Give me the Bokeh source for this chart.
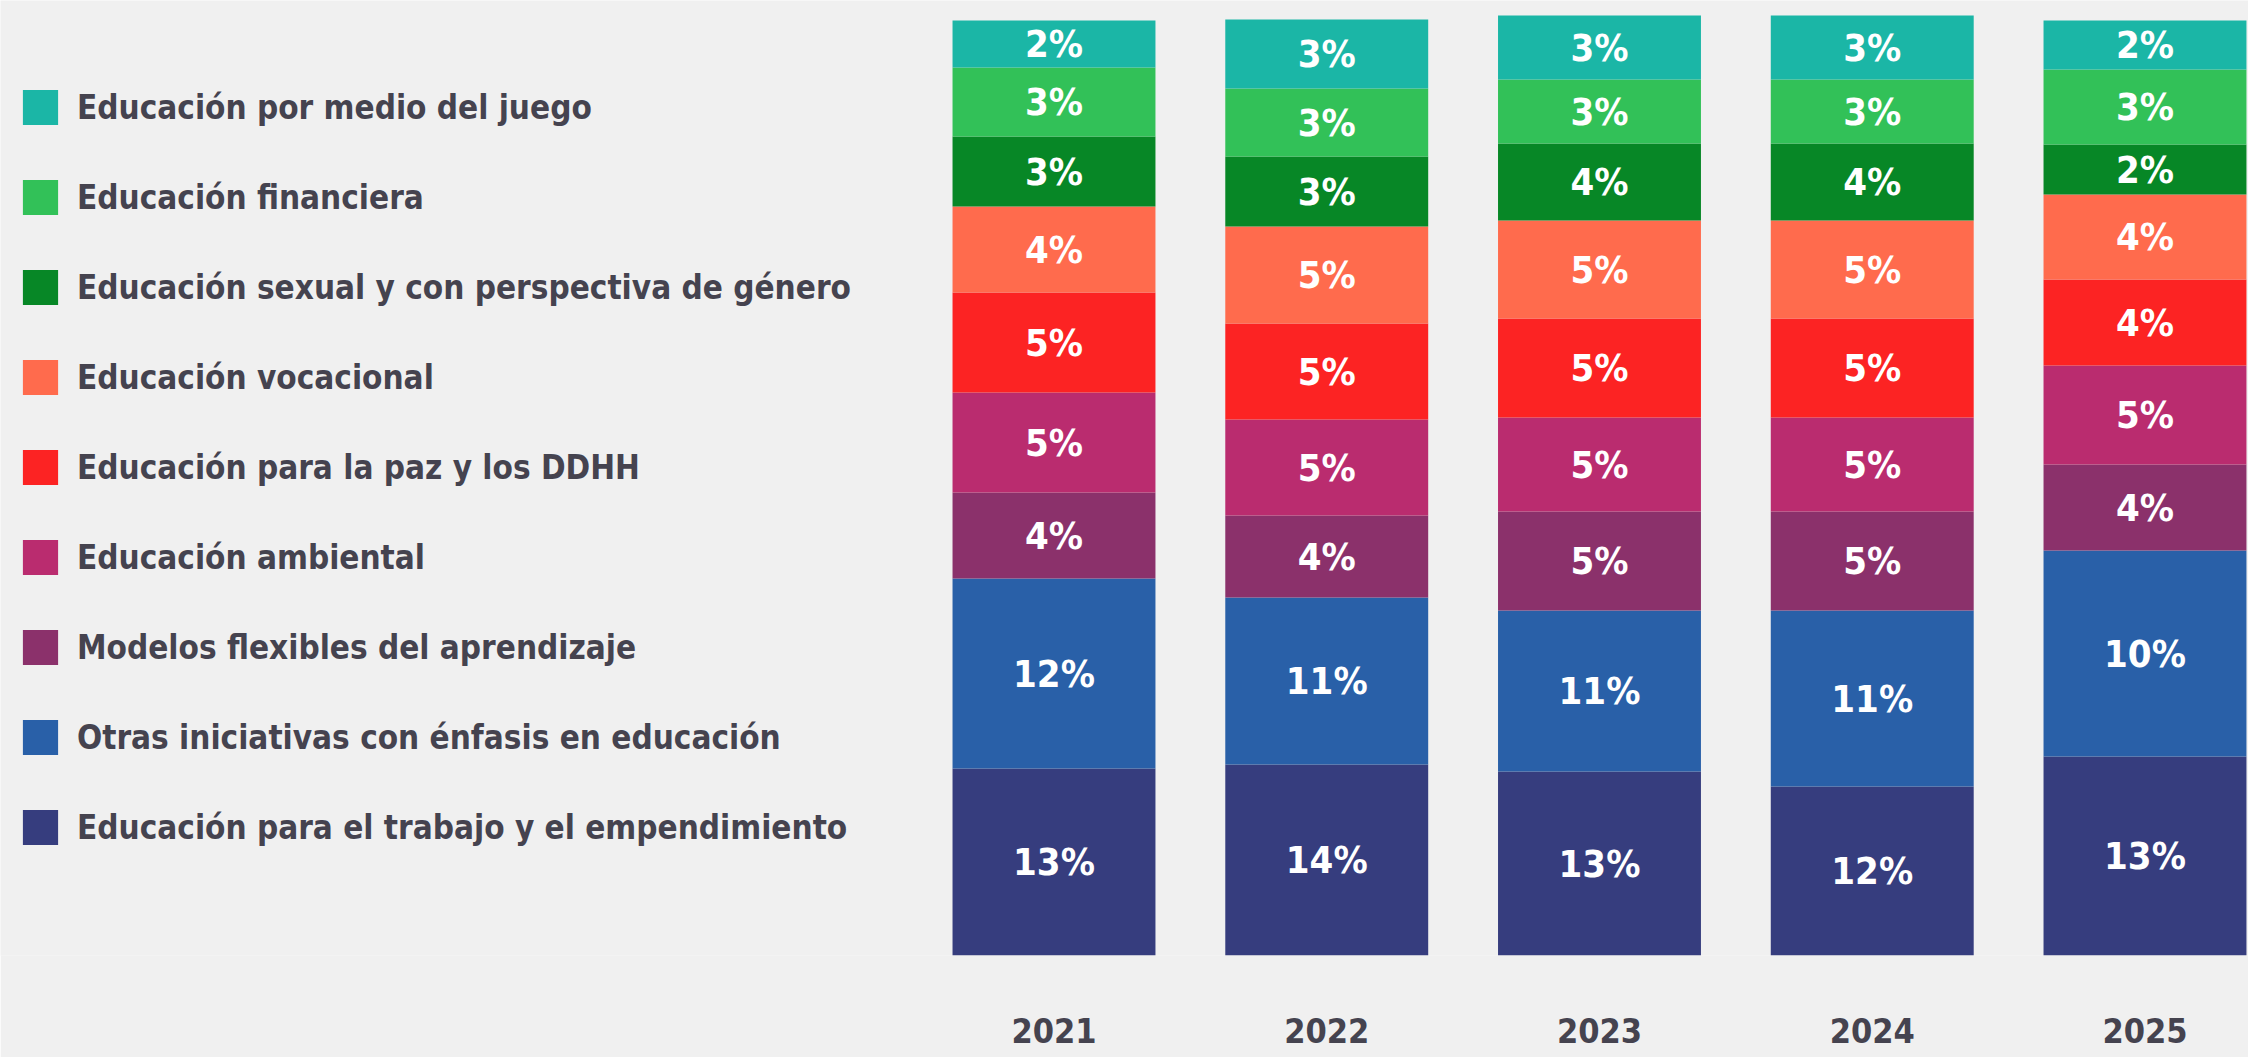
import re
from bokeh.plotting import figure
from bokeh.models import Range1d, Legend, LegendItem, FixedTicker, ColumnDataSource
from bokeh.core.properties import value
from bokeh.embed import file_html
from bokeh.resources import INLINE

# ---------------- data ----------------
years = ["2021", "2022", "2023", "2024", "2025"]

# stacking order: bottom -> top
categories = [
    "Educación para el trabajo y el empendimiento",
    "Otras iniciativas con énfasis en educación",
    "Modelos flexibles del aprendizaje",
    "Educación ambiental",
    "Educación para la paz y los DDHH",
    "Educación vocacional",
    "Educación sexual y con perspectiva de género",
    "Educación financiera",
    "Educación por medio del juego",
]

# segment sizes as drawn in the picture (share of the bar)
seg_trabajo    = [18.7, 19.1, 18.4, 16.9, 19.9]
seg_otras      = [19.0, 16.7, 16.1, 17.6, 20.6]
seg_modelos    = [8.6, 8.2, 9.9, 9.9, 8.6]
seg_ambiental  = [10.0, 9.6, 9.4, 9.4, 9.9]
seg_paz        = [10.0, 9.6, 9.9, 9.9, 8.6]
seg_vocacional = [8.6, 9.7, 9.8, 9.8, 8.5]
seg_sexual     = [7.0, 7.0, 7.7, 7.7, 5.0]
seg_financiera = [6.9, 6.8, 6.4, 6.4, 7.5]
seg_juego      = [4.7, 6.9, 6.4, 6.4, 4.9]

# percentage labels printed on the segments
pct_trabajo    = [13, 14, 13, 12, 13]
pct_otras      = [12, 11, 11, 11, 10]
pct_modelos    = [4, 4, 5, 5, 4]
pct_ambiental  = [5, 5, 5, 5, 5]
pct_paz        = [5, 5, 5, 5, 4]
pct_vocacional = [4, 5, 5, 5, 4]
pct_sexual     = [3, 3, 4, 4, 2]
pct_financiera = [3, 3, 3, 3, 3]
pct_juego      = [2, 3, 3, 3, 2]

segments = [seg_trabajo, seg_otras, seg_modelos, seg_ambiental, seg_paz,
            seg_vocacional, seg_sexual, seg_financiera, seg_juego]
percents = [pct_trabajo, pct_otras, pct_modelos, pct_ambiental, pct_paz,
            pct_vocacional, pct_sexual, pct_financiera, pct_juego]

colors = ["#363D7E", "#2960A8", "#8B316B", "#BA2C6F", "#FC2323",
          "#FF6B4D", "#078726", "#32C158", "#1BB6A6"]

# ---------------- styling ----------------
BG = "#F0F0F0"
TXT = "#45434F"
FONT = "DejaVu Sans Condensed"

x_idx = list(range(len(years)))
keys = [f"s{i}" for i in range(len(categories))]
data = {"x": x_idx}
for k, s in zip(keys, segments):
    data[k] = s
source = ColumnDataSource(data)

p = figure(width=2248, height=1057,
           x_range=Range1d(-3.8625, 4.3795), y_range=Range1d(0, 95.5),
           output_backend="svg", toolbar_location=None,
           y_axis_location=None,
           min_border_left=0, min_border_right=0, min_border_top=0,
           min_border_bottom=102,
           background_fill_color=BG, border_fill_color=BG,
           outline_line_color=None)
p.grid.visible = False

renderers = p.vbar_stack(keys, x="x", width=0.744, source=source,
                         fill_color=colors, line_color=None)

# labels on segments
for i, (seg, pct) in enumerate(zip(segments, percents)):
    ys = []
    for j in range(len(years)):
        base = sum(segments[k][j] for k in range(i))
        ys.append(base + seg[j] / 2)
    p.text(x=x_idx, y=ys, text=[f"{v}%" for v in pct],
           text_font=value(FONT), text_font_size="38px",
           text_font_style="bold", text_color="white",
           text_align="center", text_baseline="middle")

# x axis (years)
ax = p.xaxis[0]
ax.ticker = FixedTicker(ticks=x_idx)
ax.major_label_overrides = {i: y for i, y in enumerate(years)}
ax.axis_line_color = None
ax.major_tick_line_color = None
ax.minor_tick_line_color = None
ax.major_tick_out = 0
ax.major_tick_in = 0
ax.major_label_standoff = 62
ax.major_label_text_font = FONT
ax.major_label_text_font_size = "34px"
ax.major_label_text_font_style = "bold"
ax.major_label_text_color = TXT

# legend (top of stack first)
items = [LegendItem(label=c, renderers=[r])
         for c, r in reversed(list(zip(categories, renderers)))]
legend = Legend(items=items, location=(18, 106),
                glyph_width=44, glyph_height=44, label_height=44,
                spacing=46, padding=0, margin=0, label_standoff=15,
                label_text_font=FONT, label_text_font_size="33px",
                label_text_font_style="bold", label_text_color=TXT,
                label_text_baseline="middle",
                border_line_color=None, background_fill_alpha=0)
p.add_layout(legend)

html = file_html(p, INLINE)
html = re.sub(r"<body>", f'<body style="background-color:{BG};">', html, count=1)
open("out.html", "w").write(html)
